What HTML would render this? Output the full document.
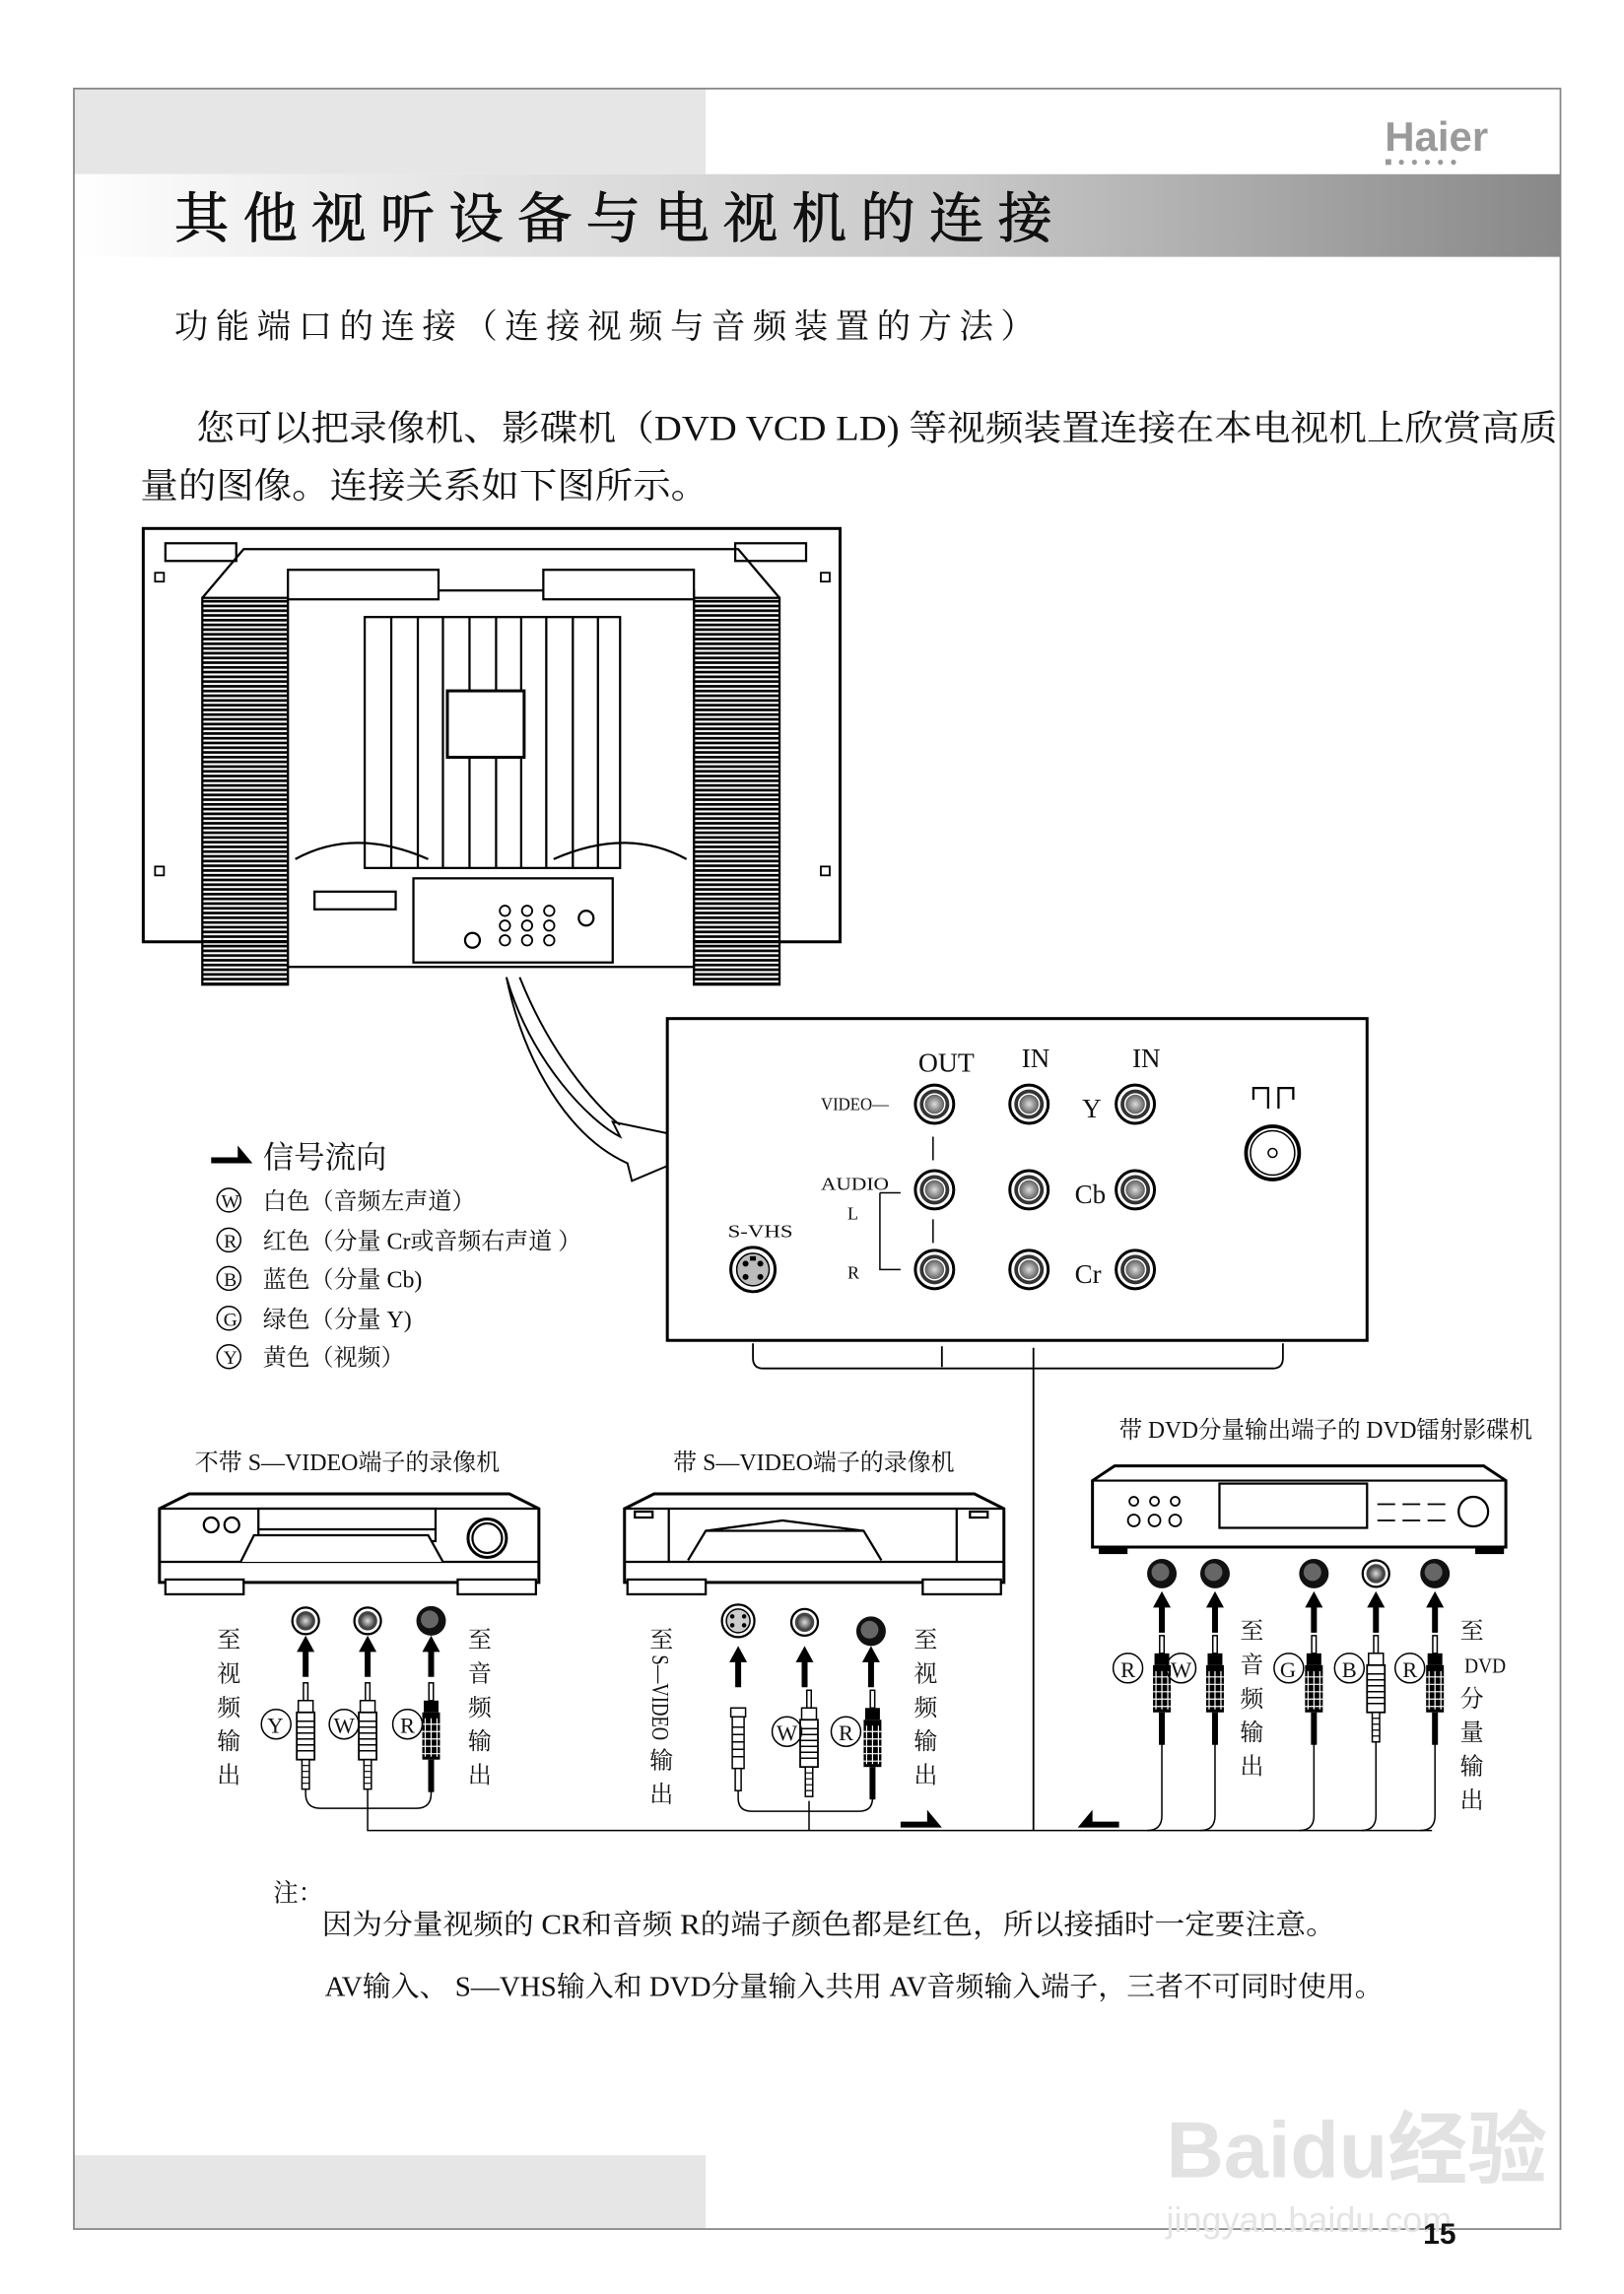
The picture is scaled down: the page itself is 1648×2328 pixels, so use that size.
<!DOCTYPE html>
<html><head><meta charset="utf-8"><style>
html,body{margin:0;padding:0;background:#fff}
svg{display:block}
text{font-family:"Liberation Serif","Noto Serif CJK SC","Noto Sans CJK SC",serif;fill:#111}
.s{font-family:"Liberation Sans","Noto Sans CJK SC",sans-serif}
</style></head><body>
<svg width="1648" height="2328" viewBox="0 0 1100 1554" xmlns="http://www.w3.org/2000/svg">
<defs>
<linearGradient id="tg" x1="0" x2="1" y1="0" y2="0">
<stop offset="0" stop-color="#fff"/><stop offset="0.15" stop-color="#eee"/><stop offset="0.6" stop-color="#c8c8c8"/><stop offset="1" stop-color="#888"/></linearGradient>
<radialGradient id="jg"><stop offset="0" stop-color="#ddd"/><stop offset="1" stop-color="#555"/></radialGradient>
<pattern id="hs" width="10" height="3.2" patternUnits="userSpaceOnUse"><rect width="10" height="1.8" fill="#000"/></pattern>
<symbol id="jack" viewBox="-15 -15 30 30" overflow="visible">
<circle r="13" fill="#fff" stroke="#000" stroke-width="2"/><circle r="10" fill="#333"/><circle r="7" fill="url(#jg)"/><circle r="7" fill="none" stroke="#fff" stroke-width="1"/></symbol>
<symbol id="sj" viewBox="-10 -10 20 20" overflow="visible">
<circle r="9" fill="#fff" stroke="#000" stroke-width="1.5"/><circle r="6.5" fill="#444"/><circle r="4.5" fill="url(#jg)"/></symbol>
<symbol id="bj" viewBox="-10 -10 20 20" overflow="visible">
<circle r="10" fill="#111"/><circle r="6" cx="-1" cy="-1" fill="#666"/></symbol>
<symbol id="up" viewBox="-5 0 10 30" overflow="visible">
<polygon points="0,0 -6,11 -2,11 -2,28 2,28 2,11 6,11" fill="#000"/></symbol>
<symbol id="plug" viewBox="-8 0 16 80" overflow="visible">
<rect x="-1.5" y="0" width="3" height="12" fill="#fff" stroke="#000"/>
<rect x="-5" y="12" width="10" height="8" fill="#fff" stroke="#000"/>
<rect x="-6" y="20" width="12" height="32" fill="#fff" stroke="#000" stroke-width="1.2"/>
<path d="M-6 26h12M-6 30h12M-6 34h12M-6 38h12M-6 42h12M-6 46h12" stroke="#000"/>
<rect x="-2.5" y="52" width="5" height="20" fill="#fff" stroke="#000"/>
<path d="M-2.5 56h5M-2.5 60h5M-2.5 64h5M-2.5 68h5" stroke="#000" stroke-width=".8"/></symbol>
<symbol id="plugB" viewBox="-8 0 16 80" overflow="visible">
<rect x="-1.5" y="0" width="3" height="12" fill="#fff" stroke="#000"/>
<rect x="-5" y="12" width="10" height="8" fill="#000"/>
<rect x="-6" y="20" width="12" height="32" fill="#000"/>
<path d="M-4 24v26M0 24v26M4 24v26M-6 28h12M-6 33h12M-6 38h12M-6 43h12M-6 48h12" stroke="#fff" stroke-width=".8"/>
<rect x="-2" y="52" width="4" height="22" fill="#000"/></symbol>
<symbol id="sig" viewBox="0 0 28 14" overflow="visible">
<polygon points="0,8 18,8 18,0 28,12 0,12" fill="#000"/></symbol>
</defs>

<rect x="50" y="60" width="428" height="58" fill="#e6e6e6"/>
<rect x="50" y="1460" width="428" height="50" fill="#e6e6e6"/>
<rect x="50" y="118" width="1007" height="56" fill="url(#tg)"/>
<rect x="50" y="60" width="1007" height="1450" fill="none" stroke="#888" stroke-width="1.2"/>
<text x="938" y="102" class="s" font-size="28" font-weight="bold" style="fill:#9a9a9a">Haier</text>
<text x="938" y="112" class="s" font-size="8" style="fill:#999" letter-spacing="4">■●●●●●</text>

<text x="118" y="161" font-size="37" letter-spacing="9.5" stroke="#111" stroke-width="0.6">其他视听设备与电视机的连接</text>
<text x="118" y="229" font-size="23" letter-spacing="5">功能端口的连接（连接视频与音频装置的方法）</text>
<text x="133" y="298" font-size="24" textLength="922" lengthAdjust="spacingAndGlyphs">您可以把录像机、影碟机（DVD VCD LD) 等视频装置连接在本电视机上欣赏高质</text>
<text x="95" y="337" font-size="24" textLength="385" lengthAdjust="spacingAndGlyphs">量的图像。连接关系如下图所示。</text>

<!-- TV -->
<g stroke="#000" fill="none" stroke-width="1.5">
<rect x="97" y="358" width="472" height="280" fill="#fff" stroke-width="2"/>
<rect x="112" y="368" width="48" height="12"/><rect x="498" y="368" width="48" height="12"/>
<path d="M137 405 L165 372 L500 372 L528 405"/>
<rect x="137" y="405" width="58" height="262" fill="url(#hs)"/>
<rect x="470" y="405" width="58" height="262" fill="url(#hs)"/>
<rect x="195" y="400" width="275" height="255" fill="#fff"/>
<rect x="195" y="386" width="102" height="20" fill="#fff"/><rect x="368" y="386" width="102" height="20" fill="#fff"/>
<rect x="247" y="418" width="173" height="170"/>
<path d="M265 418v170M283 418v170M300 418v170M318 418v170M336 418v170M353 418v170M370 418v170M388 418v170M405 418v170"/>
<rect x="303" y="468" width="52" height="45" fill="#fff" stroke-width="2"/>
<path d="M200 582 Q240 560 290 582 M375 582 Q425 560 465 582"/>
<rect x="213" y="604" width="55" height="12"/>
<rect x="280" y="595" width="135" height="57" fill="#fff"/>
<circle cx="397" cy="622" r="5"/>
<circle cx="320" cy="637" r="5"/>
</g>
<g fill="none" stroke="#000" stroke-width="1.2">
<circle cx="342" cy="617" r="3.5"/><circle cx="357" cy="617" r="3.5"/><circle cx="372" cy="617" r="3.5"/>
<circle cx="342" cy="627" r="3.5"/><circle cx="357" cy="627" r="3.5"/><circle cx="372" cy="627" r="3.5"/>
<circle cx="342" cy="637" r="3.5"/><circle cx="357" cy="637" r="3.5"/><circle cx="372" cy="637" r="3.5"/>
<rect x="105" y="388" width="6" height="6"/><rect x="556" y="388" width="6" height="6"/>
<rect x="105" y="587" width="6" height="6"/><rect x="556" y="587" width="6" height="6"/>
</g>

<path d="M343 662 C360 720 400 760 420 770 L415 760 L487 775 L428 800 L425 788 C385 770 355 720 343 662 Z" fill="#fff" stroke="#000" stroke-width="1.3"/>
<path d="M352 662 C375 720 410 755 420 762" fill="none" stroke="#000" stroke-width="1.3"/>

<rect x="452" y="690" width="474" height="218" fill="#fff" stroke="#000" stroke-width="2"/>
<g font-size="18">
<text x="622" y="726" textLength="38" lengthAdjust="spacingAndGlyphs">OUT</text>
<text x="692" y="723">IN</text><text x="767" y="723">IN</text>
<text x="733" y="757">Y</text><text x="728" y="815">Cb</text><text x="728" y="869">Cr</text>
</g>
<g font-size="12">
<text x="556" y="752" textLength="46" lengthAdjust="spacingAndGlyphs">VIDEO—</text>
<text x="556" y="806" textLength="46" lengthAdjust="spacingAndGlyphs">AUDIO</text>
<text x="574" y="826">L</text><text x="574" y="866">R</text>
<text x="493" y="838" textLength="44" lengthAdjust="spacingAndGlyphs">S-VHS</text>
</g>
<path d="M596 808 h14 M596 808 v52 h14 M632 770v16M632 826v16" stroke="#000" fill="none"/>
<use href="#jack" x="618" y="733" width="30" height="30"/><use href="#jack" x="682" y="733" width="30" height="30"/><use href="#jack" x="754" y="733" width="30" height="30"/>
<use href="#jack" x="618" y="791" width="30" height="30"/><use href="#jack" x="682" y="791" width="30" height="30"/><use href="#jack" x="754" y="791" width="30" height="30"/>
<use href="#jack" x="618" y="845" width="30" height="30"/><use href="#jack" x="682" y="845" width="30" height="30"/><use href="#jack" x="754" y="845" width="30" height="30"/>
<path d="M849 745 v-8 h10 v14 M866 751 v-14 h10 v8" fill="none" stroke="#000" stroke-width="1.5"/>
<circle cx="862" cy="781" r="18" fill="#fff" stroke="#000" stroke-width="2.5"/><circle cx="862" cy="781" r="15" fill="none" stroke="#000"/><circle cx="862" cy="781" r="3" fill="none" stroke="#000"/>
<circle cx="510" cy="860" r="15" fill="#fff" stroke="#000" stroke-width="2"/><circle cx="510" cy="860" r="11" fill="#bbb" stroke="#000"/>
<g fill="#000"><circle cx="505" cy="856" r="2"/><circle cx="515" cy="856" r="2"/><circle cx="505" cy="865" r="2"/><circle cx="515" cy="865" r="2"/><rect x="508" y="851" width="4" height="3"/></g>

<path d="M510 910 v10 q0 7 7 7 h345 q7 0 7-7 v-10 M638 912v14 M700 913v327" fill="none" stroke="#000" stroke-width="1.2"/>

<use href="#sig" x="143" y="776" width="28" height="14"/>
<text x="178" y="791" font-size="21">信号流向</text>
<g fill="none" stroke="#000"><circle cx="155" cy="813" r="8"/><circle cx="155" cy="840" r="8"/><circle cx="155" cy="866" r="8"/><circle cx="155" cy="893" r="8"/><circle cx="155" cy="919" r="8"/></g>
<g font-size="13" text-anchor="middle"><text x="156" y="818">W</text><text x="156" y="845">R</text><text x="156" y="871">B</text><text x="156" y="898">G</text><text x="156" y="924">Y</text></g>
<g font-size="16">
<text x="178" y="819">白色（音频左声道）</text>
<text x="178" y="846">红色（分量 Cr或音频右声道 ）</text>
<text x="178" y="872">蓝色（分量 Cb)</text>
<text x="178" y="899">绿色（分量 Y)</text>
<text x="178" y="925">黄色（视频）</text>
</g>

<g font-size="16">
<text x="132" y="996">不带 S—VIDEO端子的录像机</text>
<text x="456" y="996">带 S—VIDEO端子的录像机</text>
<text x="758" y="974" textLength="280" lengthAdjust="spacingAndGlyphs">带 DVD分量输出端子的 DVD镭射影碟机</text>
</g>

<g stroke="#000" fill="#fff" stroke-width="1.5">
<path d="M108 1022 L128 1012 L345 1012 L365 1022 L365 1072 L108 1072 Z" stroke-width="2"/>
<path d="M108 1022 H365 M108 1058 H365" />
<rect x="112" y="1070" width="53" height="10"/><rect x="310" y="1070" width="53" height="10"/>
<rect x="175" y="1022" width="120" height="22"/><path d="M175 1036 H295"/>
<path d="M163 1058 L172 1040 L290 1040 L300 1058"/>
<circle cx="143" cy="1033" r="5"/><circle cx="157" cy="1033" r="5"/>
<circle cx="330" cy="1042" r="13" stroke-width="2"/><circle cx="330" cy="1042" r="10"/>
</g>
<use href="#sj" x="197" y="1088" width="20" height="20"/><use href="#sj" x="239" y="1088" width="20" height="20"/><use href="#bj" x="282" y="1088" width="20" height="20"/>
<use href="#up" x="202" y="1108" width="10" height="30"/><use href="#up" x="244" y="1108" width="10" height="30"/><use href="#up" x="287" y="1108" width="10" height="30"/>
<use href="#plug" x="199" y="1140" width="16" height="80"/><use href="#plug" x="241" y="1140" width="16" height="80"/><use href="#plugB" x="284" y="1140" width="16" height="80"/>
<path d="M207 1212 v3 q0 10 10 10 h65 q10 0 10-10 v-3 M249 1212 v28 H970" fill="none" stroke="#000"/>
<g fill="none" stroke="#000"><circle cx="187" cy="1168" r="10"/><circle cx="233" cy="1168" r="10"/><circle cx="276" cy="1168" r="10"/></g>
<g font-size="15"><text x="181" y="1174">Y</text><text x="226" y="1174">W</text><text x="271" y="1174">R</text></g>
<g font-size="16" text-anchor="middle">
<text x="155" y="1116">至</text><text x="155" y="1139">视</text><text x="155" y="1162">频</text><text x="155" y="1185">输</text><text x="155" y="1208">出</text>
<text x="325" y="1116">至</text><text x="325" y="1139">音</text><text x="325" y="1162">频</text><text x="325" y="1185">输</text><text x="325" y="1208">出</text>
</g>

<g stroke="#000" fill="#fff" stroke-width="1.5">
<path d="M423 1022 L443 1012 L660 1012 L680 1022 L680 1072 L423 1072 Z" stroke-width="2"/>
<path d="M423 1022 H680 M423 1058 H680 M453 1022 V1058 M648 1022 V1058"/>
<rect x="425" y="1070" width="53" height="10"/><rect x="625" y="1070" width="53" height="10"/>
<rect x="430" y="1024" width="12" height="4"/><rect x="657" y="1024" width="12" height="4"/>
<path d="M466 1057 L478 1037 L530 1030 L585 1037 L597 1057"/><path d="M478 1037 H585"/>
</g>
<circle cx="500" cy="1098" r="11" fill="#fff" stroke="#000" stroke-width="1.5"/><circle cx="500" cy="1098" r="8" fill="#ccc" stroke="#000"/>
<g fill="#000"><circle cx="496" cy="1095" r="1.5"/><circle cx="504" cy="1095" r="1.5"/><circle cx="496" cy="1101" r="1.5"/><circle cx="504" cy="1101" r="1.5"/></g>
<use href="#sj" x="535" y="1089" width="20" height="20"/><use href="#bj" x="580" y="1095" width="20" height="20"/>
<use href="#up" x="495" y="1115" width="10" height="30"/><use href="#up" x="540" y="1115" width="10" height="30"/><use href="#up" x="585" y="1115" width="10" height="30"/>
<g stroke="#000" fill="#fff"><rect x="495" y="1157" width="10" height="6"/><rect x="496" y="1163" width="8" height="35"/><path d="M496 1170h8M496 1175h8M496 1180h8M496 1185h8M496 1190h8"/><rect x="498" y="1198" width="4" height="15"/></g>
<use href="#plug" x="540" y="1145" width="16" height="80"/><use href="#plugB" x="583" y="1145" width="16" height="80"/>
<path d="M500 1213 v5 q0 9 9 9 h73 q9 0 9-9 v-5 M548 1220 V1240" fill="none" stroke="#000"/>
<g fill="none" stroke="#000"><circle cx="533" cy="1173" r="10"/><circle cx="573" cy="1173" r="10"/></g>
<g font-size="15"><text x="526" y="1179">W</text><text x="568" y="1179">R</text></g>
<g font-size="16" text-anchor="middle">
<text x="448" y="1116">至</text><text x="448" y="1198">输</text><text x="448" y="1221">出</text>
<text x="627" y="1116">至</text><text x="627" y="1139">视</text><text x="627" y="1162">频</text><text x="627" y="1185">输</text><text x="627" y="1208">出</text>
</g>
<text transform="translate(442,1121) rotate(90)" font-size="16" textLength="58" lengthAdjust="spacingAndGlyphs">S—VIDEO</text>
<use href="#sig" x="610" y="1226" width="28" height="14"/>

<g stroke="#000" fill="#fff" stroke-width="1.5">
<path d="M740 1003 L755 993 L1005 993 L1020 1003 L1020 1048 L740 1048 Z" stroke-width="2"/>
<path d="M740 1003 H1020"/>
<rect x="826" y="1005" width="100" height="30"/>
<rect x="745" y="1048" width="18" height="4" fill="#000"/><rect x="1000" y="1048" width="18" height="4" fill="#000"/>
<circle cx="998" cy="1024" r="10"/>
</g>
<g fill="none" stroke="#000" stroke-width="1.2">
<circle cx="768" cy="1017" r="3"/><circle cx="782" cy="1017" r="3"/><circle cx="796" cy="1017" r="3"/>
<circle cx="768" cy="1030" r="4"/><circle cx="782" cy="1030" r="4"/><circle cx="796" cy="1030" r="4"/>
<path d="M933 1019h12M950 1019h12M967 1019h12M933 1030h12M950 1030h12M967 1030h12"/>
</g>
<use href="#bj" x="777" y="1056" width="20" height="20"/><use href="#bj" x="813" y="1056" width="20" height="20"/><use href="#bj" x="880" y="1056" width="20" height="20"/><use href="#sj" x="922" y="1056" width="20" height="20"/><use href="#bj" x="962" y="1056" width="20" height="20"/>
<use href="#up" x="782" y="1078" width="10" height="30"/><use href="#up" x="818" y="1078" width="10" height="30"/><use href="#up" x="885" y="1078" width="10" height="30"/><use href="#up" x="927" y="1078" width="10" height="30"/><use href="#up" x="967" y="1078" width="10" height="30"/>
<use href="#plugB" x="779" y="1108" width="16" height="80"/><use href="#plugB" x="815" y="1108" width="16" height="80"/><use href="#plugB" x="882" y="1108" width="16" height="80"/><use href="#plug" x="924" y="1108" width="16" height="80"/><use href="#plugB" x="964" y="1108" width="16" height="80"/>
<path d="M787 1180 V1230 q0 10 -10 10 M823 1180 V1230 q0 10 -10 10 M890 1180 V1230 q0 10 -10 10 M932 1180 V1230 q0 10 -10 10 M972 1180 V1230 q0 10 -10 10" fill="none" stroke="#000"/>
<g fill="none" stroke="#000"><circle cx="764" cy="1130" r="10"/><circle cx="800" cy="1130" r="10"/><circle cx="873" cy="1130" r="10"/><circle cx="914" cy="1130" r="10"/><circle cx="955" cy="1130" r="10"/></g>
<g font-size="15"><text x="759" y="1136">R</text><text x="793" y="1136">W</text><text x="867" y="1136">G</text><text x="909" y="1136">B</text><text x="950" y="1136">R</text></g>
<g font-size="16" text-anchor="middle">
<text x="848" y="1110">至</text><text x="848" y="1133">音</text><text x="848" y="1156">频</text><text x="848" y="1179">输</text><text x="848" y="1202">出</text>
<text x="997" y="1110">至</text><text x="1006" y="1133" font-size="14" textLength="28" lengthAdjust="spacingAndGlyphs">DVD</text><text x="997" y="1156">分</text><text x="997" y="1179">量</text><text x="997" y="1202">输</text><text x="997" y="1225">出</text>
</g>
<use href="#sig" x="730" y="1226" width="28" height="14" transform="translate(1488,0) scale(-1,1)"/>

<text x="185" y="1288" font-size="17">注：</text>
<text x="218" y="1310" font-size="19" textLength="687" lengthAdjust="spacingAndGlyphs">因为分量视频的 CR和音频 R的端子颜色都是红色，所以接插时一定要注意。</text>
<text x="220" y="1352" font-size="19" textLength="717" lengthAdjust="spacingAndGlyphs">AV输入、 S—VHS输入和 DVD分量输入共用 AV音频输入端子，三者不可同时使用。</text>

<text x="790" y="1475" class="s" font-size="54" font-weight="bold" style="fill:#e2e2e2">Baidu经验</text>
<text x="790" y="1512" class="s" font-size="24" style="fill:#e4e4e4">jingyan.baidu.com</text>
<text x="964" y="1520" class="s" font-size="20" font-weight="bold">15</text>
</svg>
</body></html>
